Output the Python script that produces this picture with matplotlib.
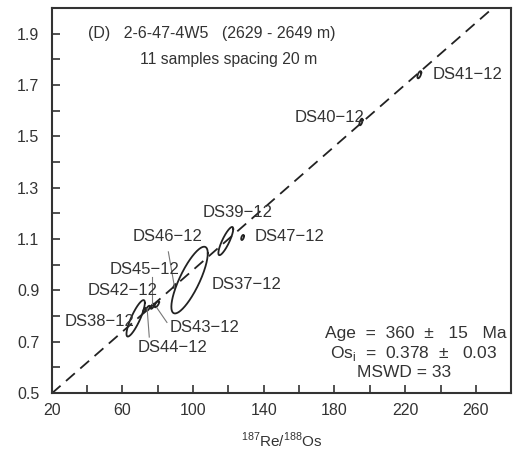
import numpy as np
import matplotlib
matplotlib.use("Agg")
import matplotlib.pyplot as plt

plt.rcParams['font.family'] = ['Liberation Sans', 'DejaVu Sans']

# ---- data ----
names = ["DS37-12", "DS38-12", "DS39-12", "DS40-12", "DS41-12", "DS42-12",
         "DS43-12", "DS44-12", "DS45-12", "DS46-12", "DS47-12"]
re_os = [98.0, 67.5, 118.5, 195.0, 228.0, 74.5, 79.5, 72.5, 77.0, 89.5, 128.0]
os_os = [0.940, 0.791, 1.092, 1.556, 1.740, 0.830, 0.846, 0.822, 0.838, 0.917, 1.106]
sig_x = [10.3, 5.2, 4.2, 0.9, 1.1, 1.1, 1.3, 0.9, 1.0, 0.6, 0.8]
sig_y = [0.130, 0.071, 0.055, 0.013, 0.014, 0.010, 0.012, 0.009, 0.010, 0.007, 0.010]
rho = [0.80, 0.85, 0.85, 0.6, 0.6, 0.7, 0.7, 0.7, 0.7, 0.7, 0.5]

label_x = [110.6, 27.5, 105.5, 157.5, 235.6, 40.5, 87.0, 68.8, 53.0, 66.0, 135.0]
label_y = [0.921, 0.777, 1.205, 1.575, 1.739, 0.901, 0.757, 0.679, 0.983, 1.108, 1.108]

# leader lines: (label-end, point-end)
leaders = {
    "DS46-12": [(86.0, 1.050), (89.5, 0.912)],
    "DS45-12": [(76.6, 0.952), (76.6, 0.845)],
    "DS43-12": [(79.5, 0.832), (85.2, 0.775)],
    "DS44-12": [(74.0, 0.828), (75.2, 0.718)],
}

age_ma = 360
os_i = 0.378
lam = 1.666e-11
slope = np.exp(lam * age_ma * 1e6) - 1

xticks = [20, 60, 100, 140, 180, 220, 260]
yticks = [0.5, 0.7, 0.9, 1.1, 1.3, 1.5, 1.7, 1.9]

fig = plt.figure(figsize=(5.14, 4.57), dpi=100)
ax = fig.add_axes([0.1006, 0.140, 0.894, 0.8425])
ax.set_xlim(20, 280)
ax.set_ylim(0.5, 2.0)

# isochron
xl = np.array([20, 280])
ax.plot(xl, os_i + slope * xl, color='#222222', lw=1.3, dashes=(6.5, 4))

# ellipses
t = np.linspace(0, 2 * np.pi, 200)
for cx, cy, sx, sy, r in zip(re_os, os_os, sig_x, sig_y, rho):
    ex = cx + sx * np.cos(t)
    ey = cy + sy * (r * np.cos(t) + np.sqrt(1 - r ** 2) * np.sin(t))
    ax.plot(ex, ey, color='#222222', lw=1.3)

# labels
for n, lx, ly in zip(names, label_x, label_y):
    ax.text(lx, ly, n.replace("-", "\u2212"), fontsize=12, color='#333333',
            ha='left', va='center')

for n, pts in leaders.items():
    ax.plot([pts[0][0], pts[1][0]], [pts[0][1], pts[1][1]], color='#777777', lw=0.8)

# annotations
ax.text(40.6, 1.90, "(D)   2-6-47-4W5   (2629 - 2649 m)", fontsize=11.5, color='#333333',
        ha='left', va='center')
ax.text(70.0, 1.80, "11 samples spacing 20 m", fontsize=11.3, color='#333333',
        ha='left', va='center')
ax.text(174.5, 0.733, "Age  =  360  \u00b1   15   Ma", fontsize=12.5, color='#333333',
        ha='left', va='center')
ax.text(177.4, 0.655, "Os$_\\mathregular{i}$  =  0.378  \u00b1   0.03", fontsize=12.5,
        color='#333333', ha='left', va='center')
ax.text(193.0, 0.580, "MSWD = 33", fontsize=12.5, color='#333333',
        ha='left', va='center')

ax.set_xticks(xticks)
ax.set_xticks(np.arange(20, 281, 20), minor=True)
ax.set_yticks(yticks)
ax.set_yticks(np.arange(0.5, 2.0, 0.1), minor=True)
ax.set_yticklabels([f"{v:.1f}" for v in yticks])
ax.tick_params(which='both', direction='in', length=6, width=1.2, color='#333333',
               labelsize=11.5, labelcolor='#333333')
ax.tick_params(axis='x', pad=7)
ax.tick_params(axis='y', pad=9)
for s in ax.spines.values():
    s.set_color('#333333')
    s.set_linewidth(1.5)

ax.set_xlabel("$^{\\mathregular{187}}$Re/$^{\\mathregular{188}}$Os", fontsize=11,
              color='#333333', labelpad=9)

fig.savefig("out.png", dpi=100)
